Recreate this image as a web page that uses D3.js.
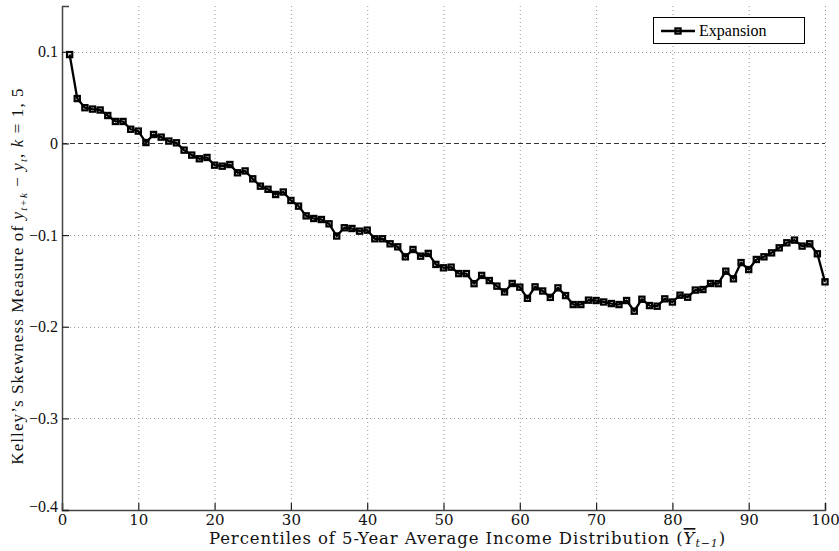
<!DOCTYPE html>
<html>
<head>
<meta charset="utf-8">
<script src="https://cdn.jsdelivr.net/npm/d3@7"></script>
<style>
  body { margin: 0; background: #fff; }
  svg { display: block; }
</style>
</head>
<body>
<svg id="chart" width="839" height="551"></svg>
<script>
// Percentile positions 1..100 of the 5-year average income distribution
const percentiles = d3.range(1, 101);

// Kelley's skewness measure for the expansion sample, one value per percentile
const expansion = [
  0.097, 0.049, 0.039, 0.0375, 0.0365, 0.0305, 0.024, 0.024, 0.0155, 0.0135,
  0.001, 0.0098, 0.0069, 0.0026, 0.0007, -0.0073, -0.0127, -0.0167, -0.0153, -0.0237,
  -0.0248, -0.023, -0.032, -0.030, -0.0386, -0.0466, -0.050, -0.0557, -0.053, -0.0622,
  -0.0684, -0.079, -0.0819, -0.083, -0.0877, -0.101, -0.092, -0.0928, -0.0957, -0.0946,
  -0.104, -0.104, -0.1095, -0.1128, -0.1237, -0.1157, -0.123, -0.120, -0.132, -0.1357,
  -0.135, -0.142, -0.142, -0.153, -0.144, -0.1496, -0.1557, -0.162, -0.1528, -0.1568,
  -0.169, -0.1565, -0.161, -0.168, -0.1576, -0.166, -0.1758, -0.1758, -0.171, -0.1714,
  -0.173, -0.1747, -0.1758, -0.1714, -0.183, -0.170, -0.1769, -0.1776, -0.1696, -0.173,
  -0.1656, -0.1678, -0.160, -0.1594, -0.1528, -0.153, -0.1394, -0.1477, -0.130, -0.1376,
  -0.1266, -0.1237, -0.1194, -0.1139, -0.1084, -0.1055, -0.112, -0.1095, -0.1204, -0.151
];

const xTicks = [0, 10, 20, 30, 40, 50, 60, 70, 80, 90, 100];
const yTicks = [-0.4, -0.3, -0.2, -0.1, 0, 0.1];
const seriesName = "Expansion";

const SERIF = "'DejaVu Serif', serif";
const TIMES = "'Liberation Serif', serif";

const svg = d3.select("#chart");
const plot = { left: 62, right: 825, top: 6, bottom: 510 };

const x = d3.scaleLinear().domain([0, 100]).range([plot.left, plot.right]);
const y = d3.scaleLinear().domain([-0.4, 0.15]).range([plot.bottom, plot.top]);

const fmtY = v => v === 0 ? "0" : d3.format(".1f")(v).replace("-", "\u2212");

// Dotted grid
const grid = svg.append("g").attr("stroke", "#9a9a9a").attr("stroke-width", 1)
  .attr("stroke-dasharray", "1,3");
grid.selectAll("line.vx").data(xTicks.filter(t => t > 0)).join("line")
  .attr("x1", d => x(d) + 0.5).attr("x2", d => x(d) + 0.5)
  .attr("y1", plot.top).attr("y2", plot.bottom);
grid.selectAll("line.hy").data(yTicks.filter(t => t > -0.4)).join("line")
  .attr("x1", plot.left).attr("x2", plot.right)
  .attr("y1", d => Math.round(y(d)) + 0.5).attr("y2", d => Math.round(y(d)) + 0.5);

// Zero reference line
svg.append("line")
  .attr("x1", x(0)).attr("x2", x(100))
  .attr("y1", Math.round(y(0)) + 0.5).attr("y2", Math.round(y(0)) + 0.5)
  .attr("stroke", "#333").attr("stroke-width", 1).attr("stroke-dasharray", "5,3");

// Axes
const xAxis = d3.axisBottom(x).tickValues(xTicks).tickSize(-7).tickPadding(4)
  .tickFormat(d3.format("d"));
const gx = svg.append("g").attr("transform", `translate(0,${plot.bottom})`).call(xAxis);
gx.attr("font-family", null);
gx.select(".domain").attr("stroke", "#444").attr("stroke-width", 1.5);
gx.selectAll(".tick line").attr("stroke", "#222").attr("stroke-width", 1.2);
gx.selectAll(".tick text").style("font-family", SERIF).style("font-size", "15px")
  .attr("fill", "#111");

const yAxis = d3.axisLeft(y).tickValues(yTicks).tickSize(-7).tickPadding(4)
  .tickFormat(fmtY);
const gy = svg.append("g").attr("transform", `translate(${plot.left},0)`).call(yAxis);
gy.attr("font-family", null);
gy.select(".domain").attr("stroke", "#444").attr("stroke-width", 1.5);
gy.selectAll(".tick line").attr("stroke", "#222").attr("stroke-width", 1.2);
gy.selectAll(".tick text").style("font-family", TIMES).style("font-size", "16px")
  .attr("fill", "#111");
gy.selectAll(".tick").filter(d => d === -0.4).select("text").attr("dy", "0.1em");

// Series line and square markers
const points = percentiles.map((p, i) => ({ p, v: expansion[i] }));
const line = d3.line().x(d => x(d.p)).y(d => y(d.v));
svg.append("path").datum(points)
  .attr("d", line).attr("fill", "none").attr("stroke", "#000")
  .attr("stroke-width", 2.3).attr("stroke-linejoin", "round");
const ms = 5.2;
svg.append("g").selectAll("rect").data(points).join("rect")
  .attr("x", d => x(d.p) - ms / 2).attr("y", d => y(d.v) - ms / 2)
  .attr("width", ms).attr("height", ms)
  .attr("fill", "none").attr("stroke", "#000").attr("stroke-width", 2.2);

// Legend
const lg = svg.append("g");
lg.append("rect").attr("x", 653.5).attr("y", 17.5).attr("width", 151).attr("height", 26)
  .attr("fill", "#fff").attr("stroke", "#000").attr("stroke-width", 1);
lg.append("line").attr("x1", 661).attr("x2", 695).attr("y1", 31).attr("y2", 31)
  .attr("stroke", "#000").attr("stroke-width", 2.3);
lg.append("rect").attr("x", 678 - ms / 2).attr("y", 31 - ms / 2).attr("width", ms).attr("height", ms)
  .attr("fill", "none").attr("stroke", "#000").attr("stroke-width", 2.2);
lg.append("text").attr("x", 699).attr("y", 36)
  .style("font-family", TIMES).style("font-size", "16px").text(seriesName);

// X axis title
const xt = svg.append("text").attr("x", (plot.left + plot.right) / 2 + 24).attr("y", 544)
  .attr("text-anchor", "middle").attr("fill", "#111")
  .style("font-family", SERIF).style("font-size", "16.5px").style("letter-spacing", "0.9px");
xt.append("tspan").text("Percentiles of 5-Year Average Income Distribution (");
xt.append("tspan").style("font-style", "italic").style("text-decoration", "overline").text("Y");
xt.append("tspan").style("font-style", "italic").style("font-size", "11px").attr("dy", 3).text("t\u22121");
xt.append("tspan").attr("dy", -3).text(")");

// Y axis title
const yt = svg.append("text")
  .attr("transform", `translate(23,276) rotate(-90)`)
  .attr("text-anchor", "middle").attr("fill", "#111")
  .style("font-family", TIMES).style("font-size", "17px").style("letter-spacing", "1.1px");
yt.append("tspan").text("Kelley\u2019s Skewness Measure of ");
yt.append("tspan").style("font-style", "italic").text("y");
yt.append("tspan").style("font-style", "italic").style("font-size", "11px").attr("dy", 4).text("t+k");
yt.append("tspan").attr("dy", -4).text(" \u2212 ");
yt.append("tspan").style("font-style", "italic").text("y");
yt.append("tspan").style("font-style", "italic").style("font-size", "11px").attr("dy", 4).text("t");
yt.append("tspan").attr("dy", -4).text(", ");
yt.append("tspan").style("font-style", "italic").text("k");
yt.append("tspan").text(" = 1, 5");
</script>
</body>
</html>
